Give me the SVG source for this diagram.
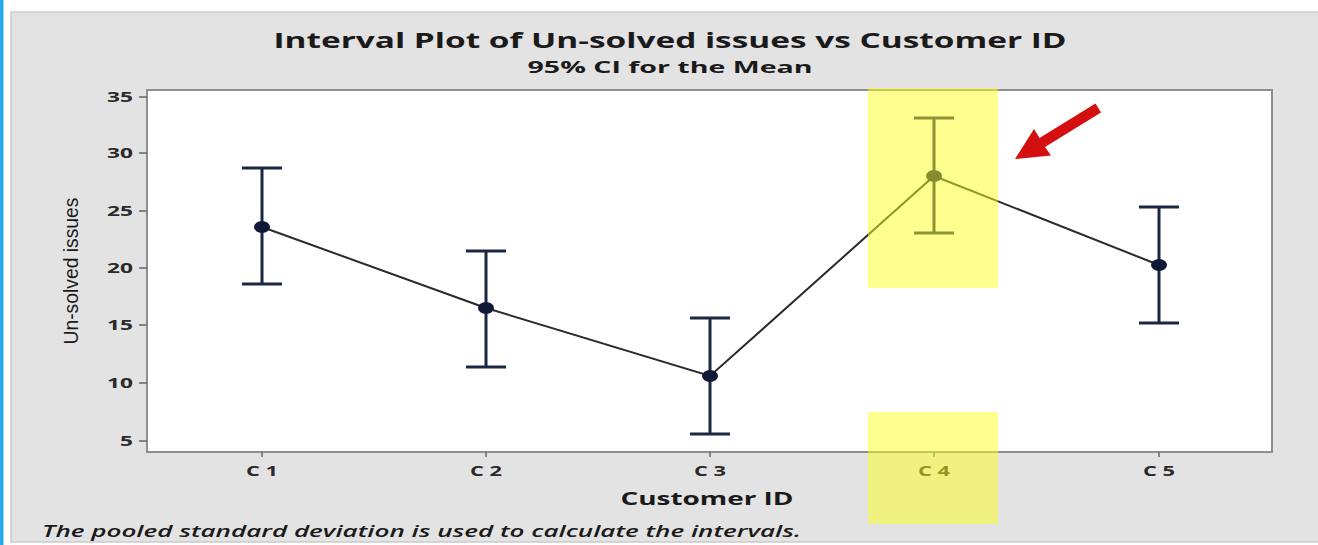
<svg xmlns="http://www.w3.org/2000/svg" width="1318" height="545" viewBox="0 0 1318 545">
  <defs>
    <style>
      .t { font-family: "Open Sans", "DejaVu Sans", sans-serif; fill: #1a1a1a; }
      .title { font-size: 22px; font-weight: bold; }
      .sub { font-size: 16px; font-weight: bold; }
      .tick { font-size: 14px; font-weight: bold; fill: #2a2a2a; }
      .cat { font-size: 14px; font-weight: bold; fill: #2a2a2a; }
      .axl { font-size: 18px; font-weight: bold; }
      .ylab { font-family: "Liberation Sans Narrow", "Liberation Sans", sans-serif; font-size: 20px; fill: #1a1a1a; }
      .foot { font-size: 17px; font-style: italic; font-weight: 600; }
      .bar { stroke: #1c2744; stroke-width: 3; fill: none; }
      .mk { fill: #0f1836; }
      .conn { stroke: #2a2a2a; stroke-width: 2; fill: none; }
      .hl { fill: #ffff22; opacity: 0.5; }
    </style>
  </defs>

  <!-- background -->
  <rect x="0" y="0" width="1318" height="545" fill="#ffffff"/>
  <rect x="0" y="0" width="3.5" height="545" fill="#29a8e8"/>
  <rect x="11" y="12" width="1310" height="530" fill="#e3e3e3" stroke="#cbcbcb" stroke-width="1.5"/>

  <!-- titles -->
  <text class="t title" x="670" y="48" text-anchor="middle" textLength="793" lengthAdjust="spacingAndGlyphs">Interval Plot of Un-solved issues vs Customer ID</text>
  <text class="t sub" x="670" y="73" text-anchor="middle" textLength="285" lengthAdjust="spacingAndGlyphs">95% CI for the Mean</text>

  <!-- plot area -->
  <rect x="147" y="90" width="1125" height="362" fill="#ffffff" stroke="#8e8e8e" stroke-width="2"/>

  <!-- y axis -->
  <g id="yaxis">
    <g stroke="#666" stroke-width="1.5">
      <line x1="139" y1="97" x2="147" y2="97"/>
      <line x1="139" y1="153" x2="147" y2="153"/>
      <line x1="139" y1="211" x2="147" y2="211"/>
      <line x1="139" y1="268" x2="147" y2="268"/>
      <line x1="139" y1="325" x2="147" y2="325"/>
      <line x1="139" y1="383" x2="147" y2="383"/>
      <line x1="139" y1="441" x2="147" y2="441"/>
    </g>
    <text class="t tick" x="107" y="102" textLength="26" lengthAdjust="spacingAndGlyphs">35</text>
    <text class="t tick" x="107" y="158" textLength="26" lengthAdjust="spacingAndGlyphs">30</text>
    <text class="t tick" x="107" y="216" textLength="26" lengthAdjust="spacingAndGlyphs">25</text>
    <text class="t tick" x="107" y="273" textLength="26" lengthAdjust="spacingAndGlyphs">20</text>
    <text class="t tick" x="107" y="330" textLength="26" lengthAdjust="spacingAndGlyphs">15</text>
    <text class="t tick" x="107" y="388" textLength="26" lengthAdjust="spacingAndGlyphs">10</text>
    <text class="t tick" x="120" y="446" textLength="13" lengthAdjust="spacingAndGlyphs">5</text>
    <text class="ylab" transform="translate(78,271) rotate(-90)" text-anchor="middle" textLength="147" lengthAdjust="spacingAndGlyphs">Un-solved issues</text>
  </g>

  <!-- x axis -->
  <g id="xaxis">
    <g stroke="#666" stroke-width="1.5">
      <line x1="262" y1="452" x2="262" y2="457"/>
      <line x1="486" y1="452" x2="486" y2="457"/>
      <line x1="710" y1="452" x2="710" y2="457"/>
      <line x1="934" y1="452" x2="934" y2="457"/>
      <line x1="1159" y1="452" x2="1159" y2="457"/>
    </g>
    <text class="t cat" x="262" y="476" text-anchor="middle" textLength="32" lengthAdjust="spacingAndGlyphs">C 1</text>
    <text class="t cat" x="486" y="476" text-anchor="middle" textLength="32" lengthAdjust="spacingAndGlyphs">C 2</text>
    <text class="t cat" x="710" y="476" text-anchor="middle" textLength="32" lengthAdjust="spacingAndGlyphs">C 3</text>
    <text class="t cat" x="934" y="476" text-anchor="middle" textLength="32" lengthAdjust="spacingAndGlyphs">C 4</text>
    <text class="t cat" x="1159" y="476" text-anchor="middle" textLength="32" lengthAdjust="spacingAndGlyphs">C 5</text>
    <text class="t axl" x="707" y="505" text-anchor="middle" textLength="173" lengthAdjust="spacingAndGlyphs">Customer ID</text>
  </g>

  <!-- connectors -->
  <g id="connectors">
    <polyline class="conn" points="262,227 486,308 710,376 934,176 1159,265"/>
  </g>

  <!-- interval nodes -->
  <g id="c1">
    <path class="bar" d="M262,168 V284 M242,168 H282 M242,284 H282"/>
    <ellipse class="mk" cx="262" cy="227" rx="8" ry="6"/>
  </g>
  <g id="c2">
    <path class="bar" d="M486,251 V367 M466,251 H506 M466,367 H506"/>
    <ellipse class="mk" cx="486" cy="308" rx="8" ry="6"/>
  </g>
  <g id="c3">
    <path class="bar" d="M710,318 V434 M690,318 H730 M690,434 H730"/>
    <ellipse class="mk" cx="710" cy="376" rx="8" ry="6"/>
  </g>
  <g id="c4">
    <path class="bar" d="M934,118 V233 M914,118 H954 M914,233 H954"/>
    <ellipse class="mk" cx="934" cy="176" rx="8" ry="6"/>
  </g>
  <g id="c5">
    <path class="bar" d="M1159,207 V323 M1139,207 H1179 M1139,323 H1179"/>
    <ellipse class="mk" cx="1159" cy="265" rx="8" ry="6"/>
  </g>

  <!-- highlight -->
  <g id="highlight">
    <rect class="hl" x="868" y="88" width="130" height="200"/>
    <rect class="hl" x="868" y="412" width="130" height="112"/>
  </g>

  <!-- red arrow -->
  <g id="arrow">
    <polygon fill="#d40f0f" points="1015,159 1051,155.5 1045,147 1101,112.5 1095.5,103.5 1039.5,138 1034,129"/>
  </g>

  <!-- footer -->
  <text class="t foot" x="42" y="537" textLength="759" lengthAdjust="spacingAndGlyphs">The pooled standard deviation is used to calculate the intervals.</text>
</svg>
